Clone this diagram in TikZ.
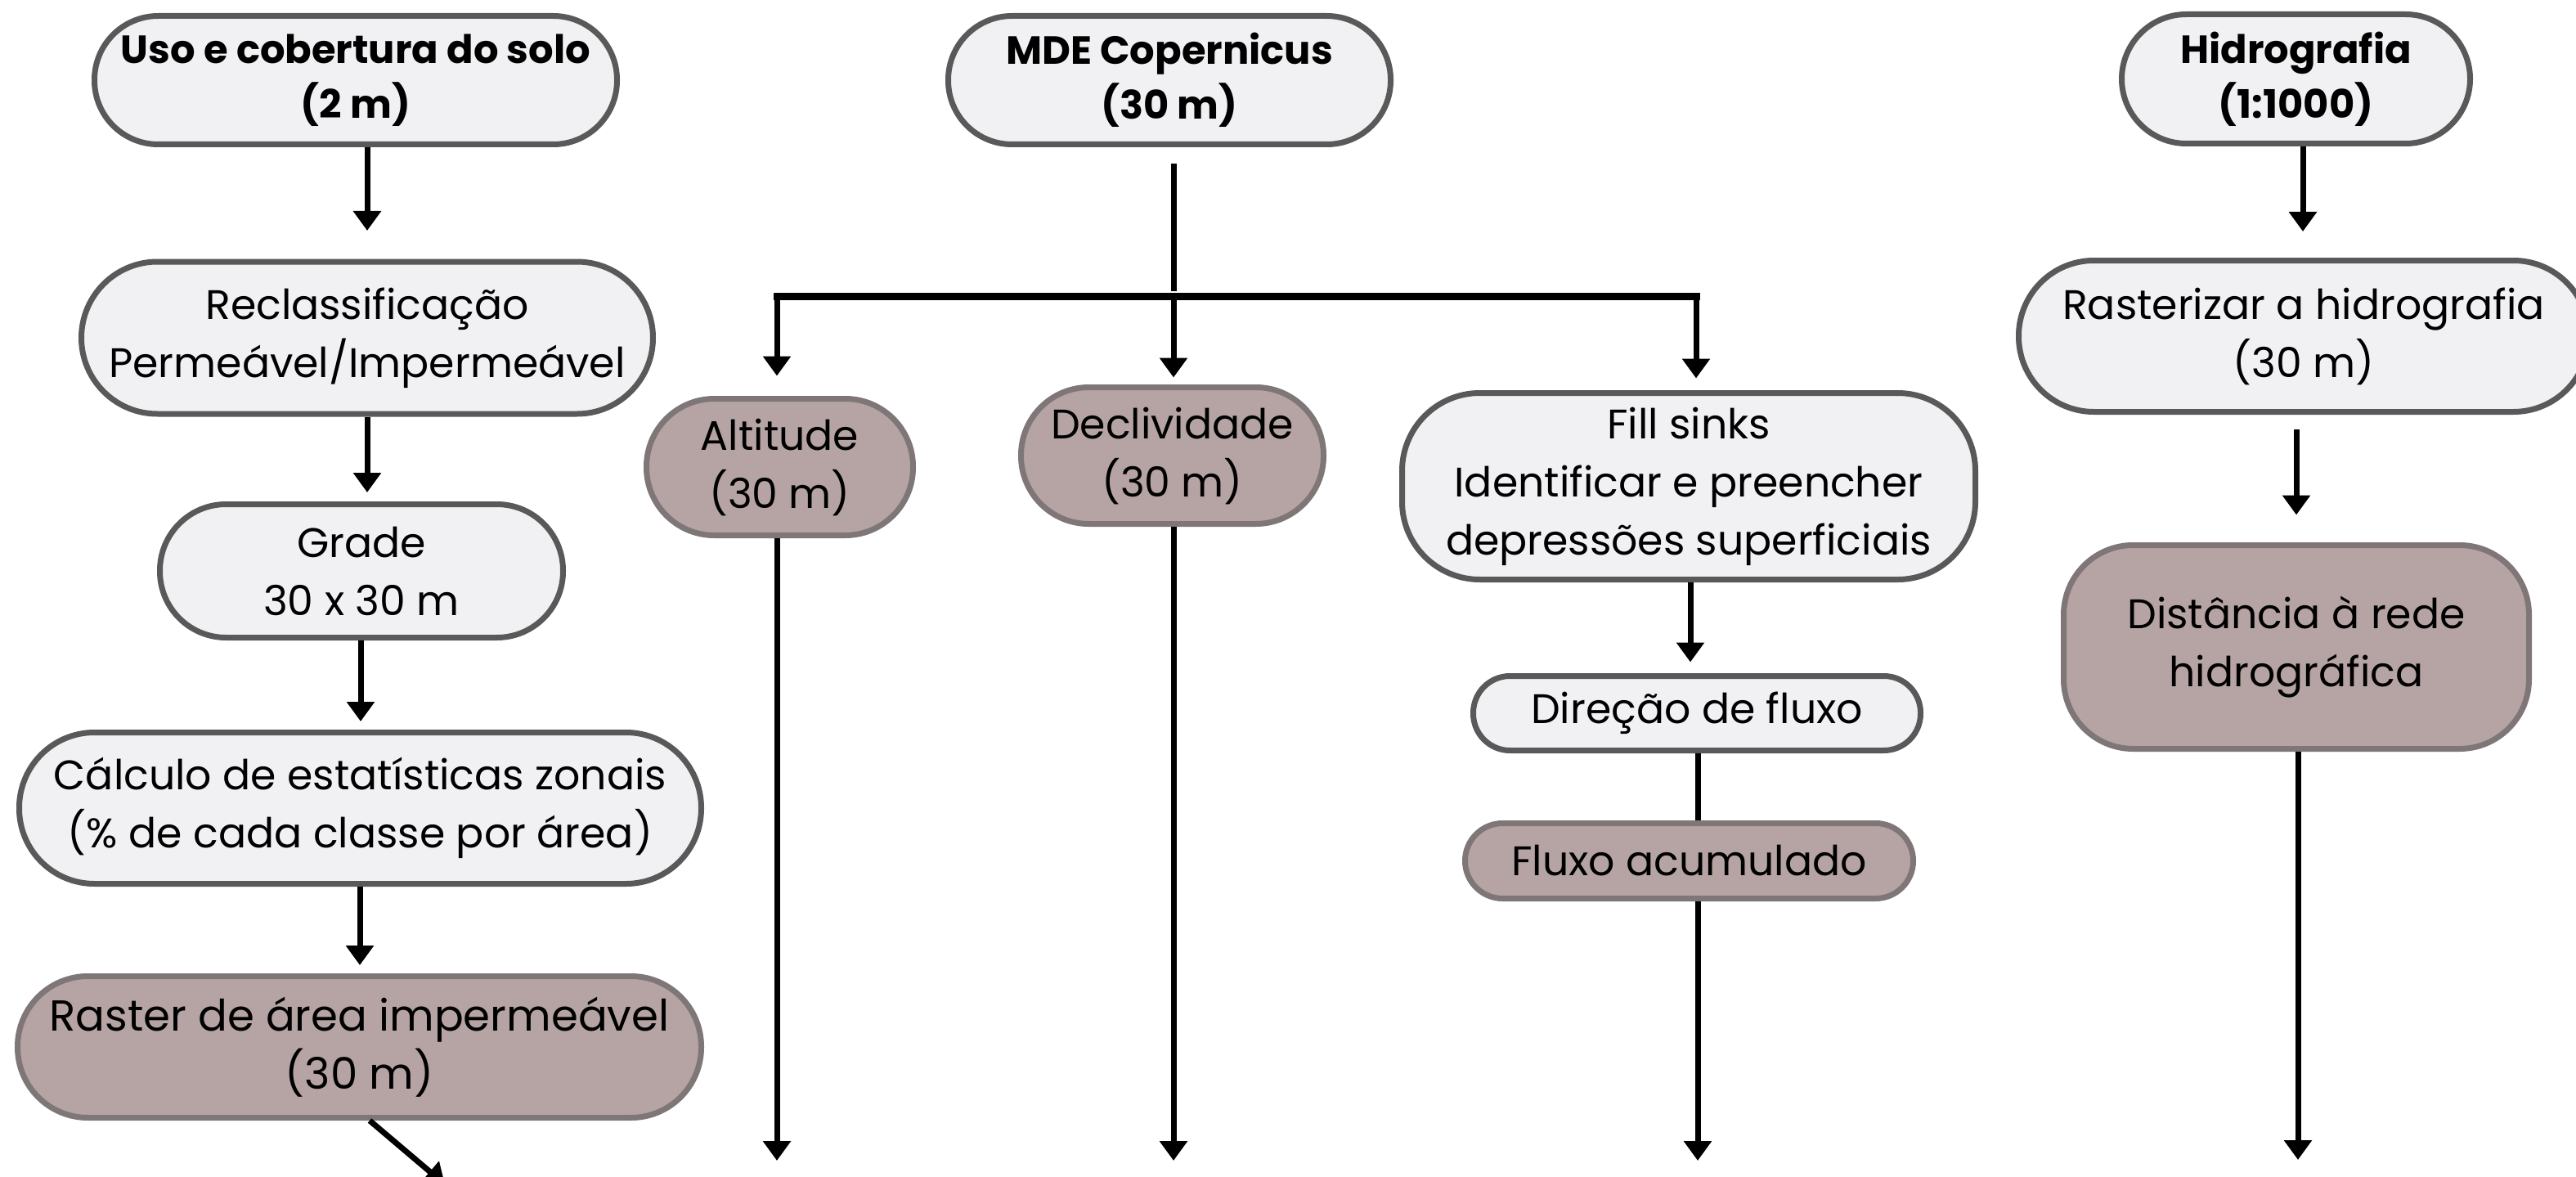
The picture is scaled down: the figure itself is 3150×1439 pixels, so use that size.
\documentclass[tikz,border=0pt]{standalone}
\usepackage{fontspec}
\setmainfont{Poppins}
\usetikzlibrary{arrows.meta}
\definecolor{lf}{HTML}{F1F0F3}
\definecolor{dk}{HTML}{595959}
\definecolor{bf}{HTML}{B5A4A3}
\definecolor{bs}{HTML}{7F7777}
\begin{document}
\begin{tikzpicture}[x=1pt,y=-1pt,
  box/.style={draw=dk, fill=lf, line width=7pt, inner sep=0pt, align=center,
    font=\fontsize{50.5}{71}\selectfont},
  bbox/.style={box, draw=bs, fill=bf},
  ttl/.style={box, font=\fontsize{48}{67}\selectfont\bfseries},
  arr/.style={line width=7pt, -{Triangle[width=33pt,length=24pt]}},
  ln/.style={line width=7pt}]
\fill[white] (0,0) rectangle (3150,1439);
\useasboundingbox (0,0) rectangle (3150,1439);

% column 1
\node[ttl, minimum width=639pt, minimum height=157pt, rounded corners=78pt] (uso) at (435,98)
  {Uso e cobertura do solo\\(2 m)};
\node[box, minimum width=699pt, minimum height=186pt, rounded corners=93pt] (recl) at (449,413)
  {Reclassificação\\Permeável/Impermeável};
\node[box, minimum width=493pt, minimum height=163pt, rounded corners=81pt] (grade) at (442,698)
  {Grade\\30 x 30 m};
\node[box, minimum width=834pt, minimum height=185pt, rounded corners=92pt] (calc) at (440.5,988)
  {Cálculo de estatísticas zonais\\(\% de cada classe por área)};
\node[bbox, minimum width=836pt, minimum height=173pt, rounded corners=86pt,
  font=\fontsize{53}{71}\selectfont] (raster) at (439.5,1280)
  {Raster de área impermeável\\(30 m)};

% column 2-3
\node[ttl, minimum width=541pt, minimum height=157pt, rounded corners=78pt] (mde) at (1430,98)
  {MDE Copernicus\\(30 m)};
\node[bbox, minimum width=326pt, minimum height=167pt, rounded corners=83pt] (alt) at (953.5,571)
  {Altitude\\(30 m)};
\node[bbox, minimum width=370pt, minimum height=167pt, rounded corners=83pt] (decl) at (1433.5,557)
  {Declividade\\(30 m)};
\node[box, minimum width=701pt, minimum height=228pt, rounded corners=95pt] (fill) at (2065,594.5)
  {Fill sinks\\Identificar e preencher\\depressões superficiais};
\node[box, minimum width=547pt, minimum height=91pt, rounded corners=45pt] (dir) at (2075,872)
  {Direção de fluxo};
\node[bbox, minimum width=548pt, minimum height=92pt, rounded corners=46pt] (flux) at (2065.5,1052.5)
  {Fluxo acumulado};

% column 4
\node[ttl, minimum width=426pt, minimum height=158pt, rounded corners=79pt] (hid) at (2807.5,96.5)
  {Hidrografia\\(1:1000)};
\node[box, minimum width=697pt, minimum height=185pt, rounded corners=92pt] (rast) at (2817,411)
  {Rasterizar a hidrografia\\(30 m)};
\node[bbox, minimum width=569pt, minimum height=249pt, rounded corners=85pt] (dist) at (2808,791)
  {Distância à rede\\hidrográfica};

% junction and free ends
\coordinate (ja) at (950,362);
\coordinate (jb) at (1435,362);
\coordinate (jc) at (2074,362);
\coordinate (o1) at (544,1448);
\coordinate (o2) at (950,1419);
\coordinate (o3) at (1435,1419);
\coordinate (o4) at (2076,1419);
\coordinate (o5) at (2810,1418);

% connectors column 1
\draw[arr] ([xshift=14pt]uso.south) -- ([yshift=34.5pt]recl.north);
\draw[arr] (recl.south) -- ([xshift=7pt,yshift=11pt]grade.north);
\draw[arr] ([xshift=-1pt]grade.south) -- ([xshift=0.5pt,yshift=10pt]calc.north);
\draw[arr] ([xshift=-0.5pt]calc.south) -- ([xshift=0.5pt,yshift=10pt]raster.north);
\draw[arr] ([xshift=12.5pt]raster.south) -- (o1);

% MDE branches
\draw[line width=7pt, shorten <=20pt, shorten >=6pt] ([xshift=5pt]mde.south) -- (jb);
\draw[line width=9pt, line cap=rect] (ja) -- (jc);
\draw[arr] (ja) -- ([xshift=-3.5pt,yshift=24.5pt]alt.north);
\draw[arr] (jb) -- ([xshift=1.5pt,yshift=8.5pt]decl.north);
\draw[arr] (jc) -- ([xshift=9pt,yshift=14.5pt]fill.north);
\draw[arr] (alt.south -| ja) -- (o2);
\draw[arr] (decl.south -| jb) -- (o3);
\draw[arr] ([xshift=2pt]fill.south) -- ([xshift=-8pt,yshift=13.5pt]dir.north);
\draw[ln] ([xshift=1pt]dir.south) -- (flux.north -| o4);
\draw[arr] (flux.south -| o4) -- (o4);

% column 4
\draw[arr] ([xshift=8.5pt]hid.south) -- ([xshift=-1pt,yshift=32pt]rast.north);
\draw[arr] ([xshift=-9pt,yshift=-18pt]rast.south) -- ([yshift=33.5pt]dist.north);
\draw[arr] ([xshift=2pt]dist.south) -- (o5);
\end{tikzpicture}
\end{document}
